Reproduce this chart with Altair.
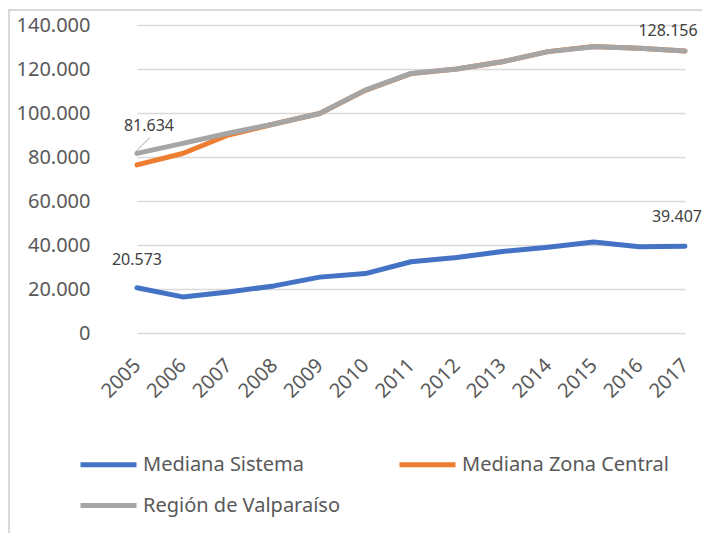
import altair as alt
import pandas as pd

years = [str(y) for y in range(2005, 2018)]
series_names = ["Mediana Sistema", "Mediana Zona Central", "Región de Valparaíso"]
sistema = [20573, 16400, 18600, 21400, 25400, 27000, 32400, 34300, 37000, 39000, 41400, 39200, 39407]
zona_central = [76400, 81600, 90000, 95000, 99800, 110300, 117900, 120000, 123300, 127900, 130200, 129400, 128156]
valparaiso = [81634, 86200, 90800, 95000, 99800, 110400, 118000, 120000, 123300, 127900, 130100, 129400, 128156]
colors = ["#4472C4", "#ED7D31", "#A5A5A5"]
y_ticks = [0, 20000, 40000, 60000, 80000, 100000, 120000, 140000]

rows = []
for name, vals in zip(series_names, [sistema, zona_central, valparaiso]):
    for y, v in zip(years, vals):
        rows.append({"year": y, "value": v, "serie": name})
df = pd.DataFrame(rows)

FONT = "Noto Sans"

x_enc = alt.X("year:N", scale=alt.Scale(type="point", range=[23, 571], padding=0),
              axis=alt.Axis(title=None, labelAngle=-45, labelAlign="right", labelBaseline="middle",
                            labelPadding=29, labelFontSize=20, labelColor="#595959", labelFont=FONT,
                            ticks=False, domain=False, grid=False))
y_enc = alt.Y("value:Q", scale=alt.Scale(domain=[0, 140000], nice=False),
              axis=alt.Axis(title=None, values=y_ticks,
                            labelExpr="replace(format(datum.value, ','), ',', '.')",
                            labelFontSize=20, labelColor="#595959", labelFont=FONT, labelPadding=24,
                            ticks=False, domain=False, grid=True, gridColor="#D9D9D9", gridWidth=1.5))

base = alt.Chart(df)

lines = base.mark_line(strokeWidth=5, strokeCap="round", strokeJoin="round").encode(
    x=x_enc, y=y_enc,
    color=alt.Color("serie:N", scale=alt.Scale(domain=series_names, range=colors),
                    legend=alt.Legend(title=None, orient="none", direction="horizontal",
                                      legendX=-22, legendY=423,
                                      columns=2, columnPadding=48, rowPadding=14,
                                      symbolType="M-2,0H2", symbolSize=784, symbolStrokeWidth=5,
                                      labelFontSize=20, labelColor="#595959", labelFont=FONT,
                                      labelOffset=18, padding=0, labelLimit=400))
)

def label(serie, year, dx, dy):
    return base.transform_filter(
        (alt.datum.serie == serie) & (alt.datum.year == year)
    ).transform_calculate(
        lbl="replace(format(datum.value, ','), ',', '.')"
    ).mark_text(dx=dx, dy=dy, fontSize=16, color="#404040", font=FONT).encode(
        x="year:N", y="value:Q", text="lbl:N"
    )

labels = (label("Región de Valparaíso", "2005", 12, -27)
          + label("Mediana Sistema", "2005", 0, -28)
          + label("Región de Valparaíso", "2017", -17, -20)
          + label("Mediana Sistema", "2017", -8, -29))

leader = base.transform_filter(
    (alt.datum.serie == "Región de Valparaíso") & (alt.datum.year == "2005")
).mark_rule(color="#A5A5A5", strokeWidth=1, xOffset=-1, yOffset=-2, x2Offset=13, y2Offset=-16).encode(
    x="year:N", x2="year:N", y="value:Q", y2="value:Q"
)

border_left = alt.Chart(pd.DataFrame({"a": [0]})).mark_rule(color="#D9D9D9", strokeWidth=2).encode(
    x=alt.value(-105), y=alt.value(-15), y2=alt.value(520))
border_top = alt.Chart(pd.DataFrame({"a": [0]})).mark_rule(color="#D9D9D9", strokeWidth=2).encode(
    x=alt.value(-106), x2=alt.value(600), y=alt.value(-15))

chart = alt.layer(border_left, border_top, lines, leader, labels).properties(
    width=588, height=308,
    autosize=alt.AutoSizeParams(type="none"),
    padding={"left": 106, "top": 17, "right": 0, "bottom": 200},
).configure_view(stroke=None)

chart.save("out.html", embed_options={"renderer": "svg", "actions": False})
